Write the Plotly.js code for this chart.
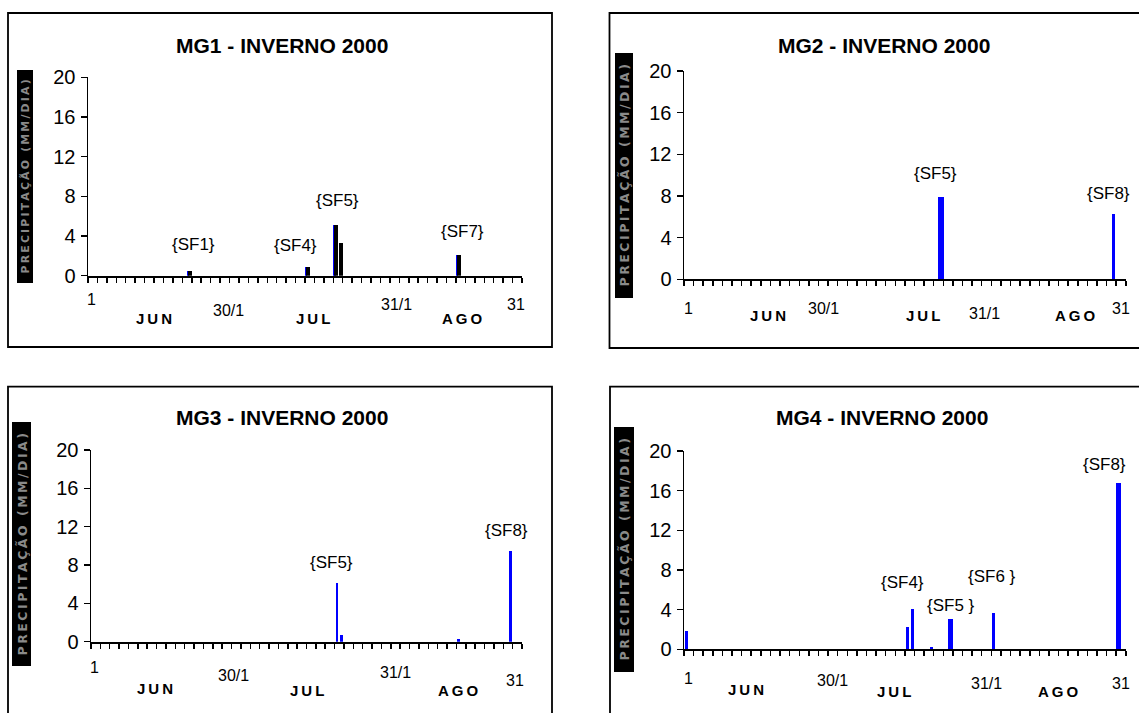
<!DOCTYPE html>
<html>
<head>
<meta charset="utf-8">
<script src="https://cdn.plot.ly/plotly-3.0.1.min.js"></script>
<style>
html,body{margin:0;padding:0;background:#fff;}
#chart{width:1139px;height:713px;}
</style>
</head>
<body>
<div id="chart"></div>
<script>
// ---------------- DATA ----------------
const TITLES = ['MG1 - INVERNO 2000', 'MG2 - INVERNO 2000', 'MG3 - INVERNO 2000', 'MG4 - INVERNO 2000'];
const Y_TITLE = 'PRECIPITAÇÃO (MM/DIA)';
const Y_TICKS = [0, 4, 8, 12, 16, 20];
const DAY_LABELS = ['1', '30/1', '31/1', '31'];
const MONTH_LABELS = ['JUN', 'JUL', 'AGO'];

// day index: 1 = 1 Jun ... 92 = 31 Aug
const MG1_BLUE_DAYS = [22, 47, 53, 79];
const MG1_BLUE_MM   = [0.5, 0.9, 5.1, 2.1];
const MG1_BLACK_DAYS = [22, 47, 53, 54, 79];
const MG1_BLACK_MM   = [0.5, 0.9, 5.1, 3.3, 2.1];
const MG1_EVENTS = ['{SF1}', '{SF4}', '{SF5}', '{SF7}'];

const MG2_DAYS = [54, 90];
const MG2_MM   = [7.9, 6.3];
const MG2_EVENTS = ['{SF5}', '{SF8}'];

const MG3_DAYS = [53, 54, 79, 90];
const MG3_MM   = [6.1, 0.7, 0.25, 9.45];
const MG3_EVENTS = ['{SF5}', '{SF8}'];

const MG4_DAYS = [1, 47, 48, 52, 56, 65, 91];
const MG4_MM   = [1.8, 2.2, 4.05, 0.25, 3.05, 3.65, 16.8];
const MG4_EVENTS = ['{SF4}', '{SF5 }', '{SF6 }', '{SF8}'];

// ---------------- STYLE / LAYOUT ----------------
const W = 1139, H = 713;
const FONT = '"Liberation Sans", Arial, sans-serif';
const BLUE = '#0000ff';
const px = v => v / W;
const py = v => 1 - v / H;

const PANELS = [
  { xd: [88, 522], yd: [275.7, 77.3], box: [8, 13, 552, 347], title: [282, 45],
    yt: [17, 70, 33, 283],
    dayPos: [[1.3, -0.118], [30.2, -0.173], [65.8, -0.143], [91.2, -0.143]],
    monPos: [[14.5, -0.215], [48.2, -0.215], [79.9, -0.215]],
    evPos: [[22.8, 3.1], [44.4, 3.0], [53.3, 7.6], [79.9, 4.5]] },
  { xd: [684, 1125.8], yd: [279.3, 71], box: [609.5, 13, 1145, 348], title: [883.5, 45],
    yt: [615, 53, 633, 298],
    dayPos: [[1.35, -0.14], [29.6, -0.139], [63.0, -0.163], [91.4, -0.139]],
    monPos: [[18.0, -0.176], [50.3, -0.176], [82.0, -0.176]],
    evPos: [[52.8, 10.2], [88.9, 8.2]] },
  { xd: [91, 522], yd: [641.7, 450], box: [8, 386.7, 552, 720], title: [282, 417],
    yt: [12, 422, 31, 666],
    dayPos: [[1.3, -0.132], [30.9, -0.174], [65.5, -0.162], [90.9, -0.2]],
    monPos: [[14.2, -0.243], [46.5, -0.252], [79.0, -0.252]],
    evPos: [[51.8, 8.24], [89.2, 11.55]] },
  { xd: [684, 1125.8], yd: [649.3, 451], box: [610, 386.7, 1145, 720], title: [881.8, 417],
    yt: [614, 427, 634, 672],
    dayPos: [[1.35, -0.146], [31.4, -0.155], [63.5, -0.171], [91.4, -0.171]],
    monPos: [[13.5, -0.205], [44.2, -0.213], [78.5, -0.213]],
    evPos: [[46.0, 6.72], [56.0, 4.37], [64.7, 7.33], [88.0, 18.66]] }
];
const EVENTS = [MG1_EVENTS, MG2_EVENTS, MG3_EVENTS, MG4_EVENTS];

// ---------------- TRACES ----------------
const traces = [
  { type: 'bar', x: MG1_BLUE_DAYS, y: MG1_BLUE_MM, xaxis: 'x', yaxis: 'y',
    marker: { color: BLUE, line: { width: 0 } }, width: 0.5, offset: -0.5 },
  { type: 'bar', x: MG1_BLACK_DAYS, y: MG1_BLACK_MM, xaxis: 'x', yaxis: 'y',
    marker: { color: '#000', line: { width: 0 } }, width: 0.85, offset: -0.25 },
  { type: 'bar', x: MG2_DAYS, y: MG2_MM, xaxis: 'x2', yaxis: 'y2',
    marker: { color: BLUE, line: { width: 0 } }, width: [1.1, 0.7] },
  { type: 'bar', x: MG3_DAYS, y: MG3_MM, xaxis: 'x3', yaxis: 'y3',
    marker: { color: BLUE, line: { width: 0 } }, width: 0.55 },
  { type: 'bar', x: MG4_DAYS, y: MG4_MM, xaxis: 'x4', yaxis: 'y4',
    marker: { color: BLUE, line: { width: 0 } }, width: [0.6, 0.6, 0.6, 0.6, 1.05, 0.6, 1.0] }
];

// ---------------- LAYOUT ----------------
const layout = {
  width: W, height: H,
  margin: { l: 0, r: 0, t: 0, b: 0 },
  paper_bgcolor: '#fff', plot_bgcolor: 'rgba(0,0,0,0)',
  showlegend: false, barmode: 'overlay', bargap: 0,
  font: { family: FONT, color: '#000' },
  shapes: [], annotations: []
};

const spaced = (s, sep) => s.split('').join(sep);

PANELS.forEach((p, i) => {
  const n = i === 0 ? '' : String(i + 1);
  layout['xaxis' + n] = {
    domain: [px(p.xd[0]), px(p.xd[1])], anchor: 'y' + n,
    range: [0.5, 92.5], showgrid: false, zeroline: false,
    showline: true, linecolor: '#000', linewidth: 2,
    ticks: 'outside', tick0: 0.5, dtick: 2, ticklen: 5, tickwidth: 1.5, tickcolor: '#000',
    showticklabels: false, fixedrange: true
  };
  layout['yaxis' + n] = {
    domain: [py(p.yd[0]), py(p.yd[1])], anchor: 'x' + n,
    range: [0, 20], tickvals: Y_TICKS, showgrid: false, zeroline: false,
    showline: true, linecolor: '#000', linewidth: 1.5,
    ticks: 'outside', ticklen: 6, tickwidth: 1.2, tickcolor: '#000', ticklabelstandoff: 1,
    tickfont: { family: FONT, size: 20, color: '#000' }, fixedrange: true
  };
  // outer frame
  layout.shapes.push({ type: 'rect', xref: 'paper', yref: 'paper',
    x0: px(p.box[0]), x1: px(p.box[2]), y0: py(p.box[3]), y1: py(p.box[1]),
    line: { color: '#000', width: 1.8 }, fillcolor: 'rgba(0,0,0,0)' });
  // y title black box
  layout.shapes.push({ type: 'rect', xref: 'paper', yref: 'paper',
    x0: px(p.yt[0]), x1: px(p.yt[2]), y0: py(p.yt[3]), y1: py(p.yt[1]),
    line: { width: 0 }, fillcolor: '#000' });
  const boxH = p.yt[3] - p.yt[1];
  layout.annotations.push({ xref: 'paper', yref: 'paper',
    x: px((p.yt[0] + p.yt[2]) / 2), y: py((p.yt[1] + p.yt[3]) / 2),
    text: '<b>' + spaced(Y_TITLE, '\u2009') + '</b>', textangle: -90, showarrow: false,
    xanchor: 'center', yanchor: 'middle',
    font: { family: '"DejaVu Sans", sans-serif', size: Math.min(12.5, boxH / 19.5), color: '#8a8a8a' } });
  // title
  layout.annotations.push({ xref: 'paper', yref: 'paper',
    x: px(p.title[0]), y: py(p.title[1]), xanchor: 'center', yanchor: 'middle',
    text: '<b>' + TITLES[i] + '</b>', showarrow: false,
    font: { family: FONT, size: 21, color: '#000' } });
  // day labels
  DAY_LABELS.forEach((t, k) => layout.annotations.push({
    xref: 'x' + n, yref: 'y' + n + ' domain', x: p.dayPos[k][0], y: p.dayPos[k][1],
    xanchor: 'center', yanchor: 'middle', text: t, showarrow: false,
    font: { family: FONT, size: 16, color: '#000' } }));
  // month labels
  MONTH_LABELS.forEach((t, k) => layout.annotations.push({
    xref: 'x' + n, yref: 'y' + n + ' domain', x: p.monPos[k][0], y: p.monPos[k][1],
    xanchor: 'center', yanchor: 'middle', text: '<b>' + spaced(t, '\u2009') + '</b>', showarrow: false,
    font: { family: FONT, size: 15, color: '#000' } }));
  // event labels
  EVENTS[i].forEach((t, k) => layout.annotations.push({
    xref: 'x' + n, yref: 'y' + n, x: p.evPos[k][0], y: p.evPos[k][1],
    xanchor: 'center', yanchor: 'middle', text: t, showarrow: false,
    font: { family: FONT, size: 17, color: '#000' } }));
});

Plotly.newPlot('chart', traces, layout, { displayModeBar: false, staticPlot: true });
</script>
</body>
</html>
